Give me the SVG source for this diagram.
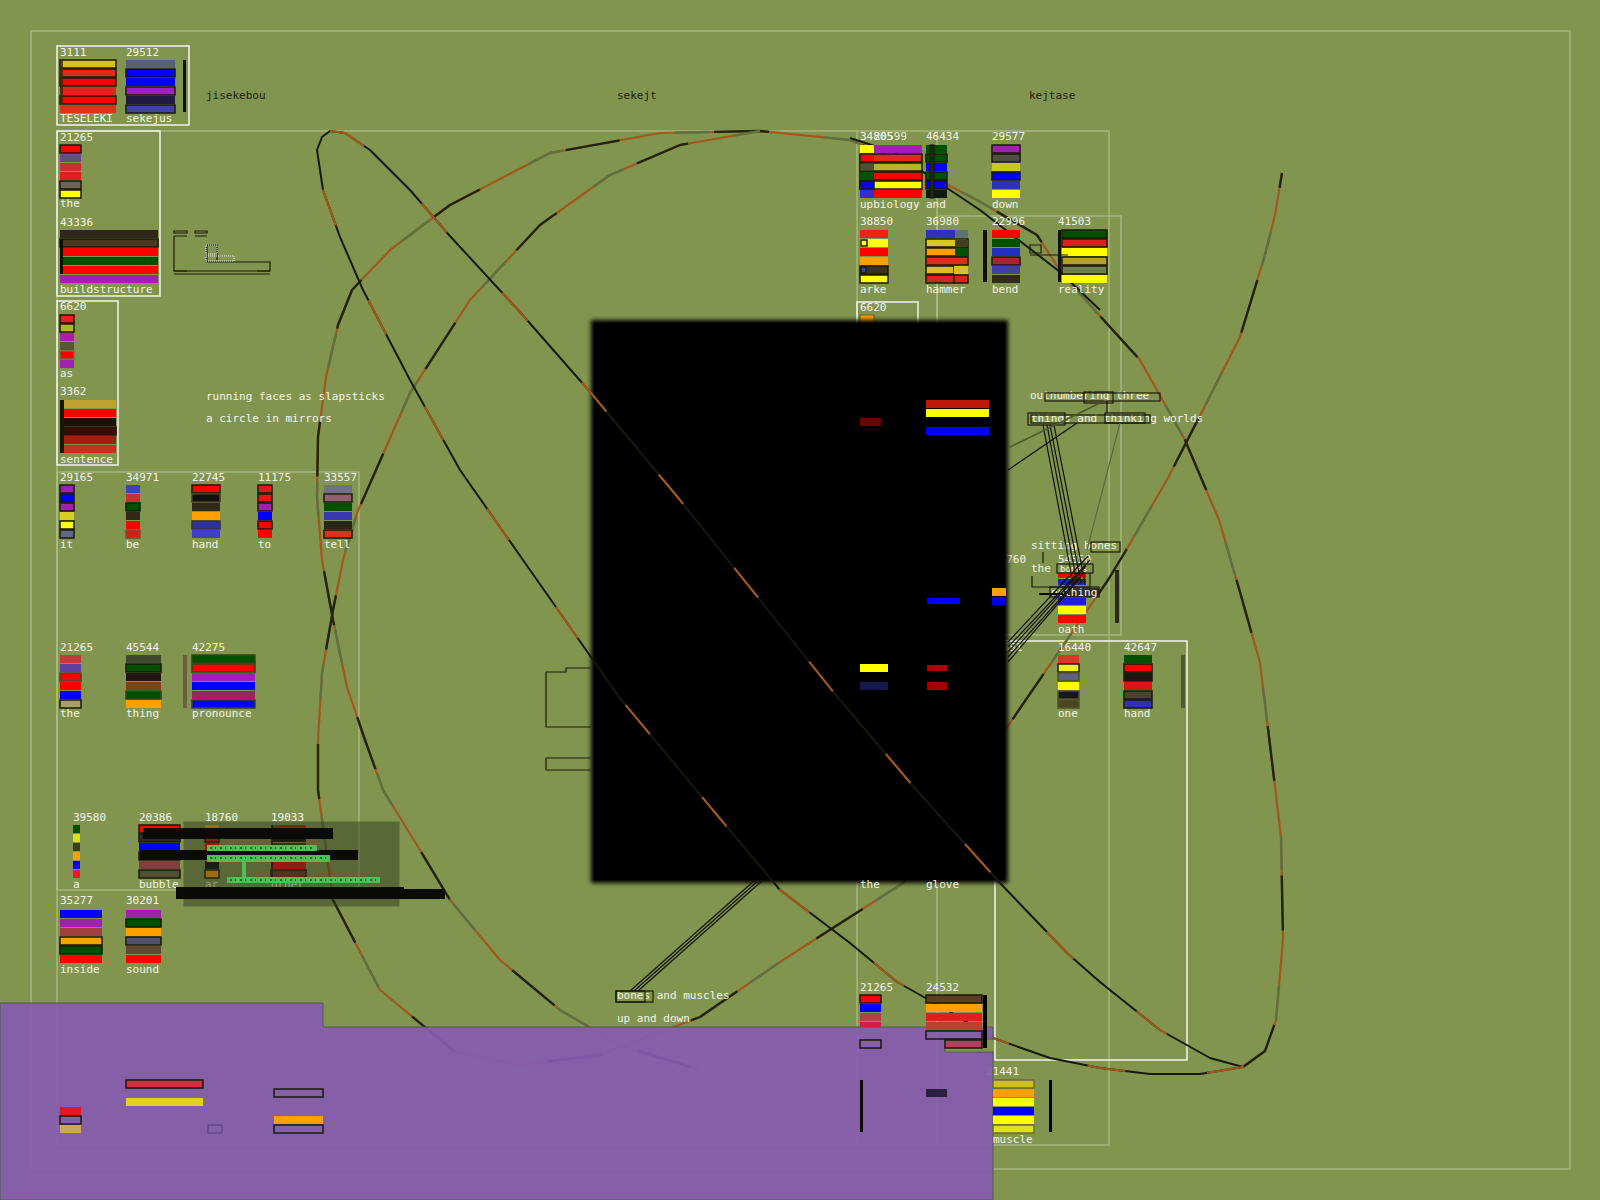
<svg xmlns="http://www.w3.org/2000/svg" width="1600" height="1200" viewBox="0 0 1600 1200">
<defs>
<style>
.t{font-family:"DejaVu Sans Mono",monospace;font-size:11px;fill:#f4f4ec}
.d{font-family:"DejaVu Sans Mono",monospace;font-size:11px;fill:#1c2010}
.fr{fill:none;stroke:#b8c494;stroke-width:1}
.wb{fill:none;stroke:#f4f4ee;stroke-width:1.5}
.s{stroke:#1a1a0a;stroke-width:1.5}
.ol{fill:none;stroke:#1a1a0a;stroke-width:1.2}
.co{fill:none;stroke:#a0581e;stroke-width:2.2;stroke-linejoin:round}
.cd{fill:none;stroke:#1e2410;stroke-width:2.4;stroke-linejoin:round;stroke-dasharray:55 95}
.cg{fill:none;stroke:#5f7040;stroke-width:2.4;stroke-linejoin:round;stroke-dasharray:35 115;stroke-dashoffset:-60}
.ca{fill:none;stroke:#161a0c;stroke-width:2;stroke-linejoin:round}
.cao{fill:none;stroke:#a0581e;stroke-width:2.2;stroke-linejoin:round;stroke-dasharray:38 82}
.cn{fill:none;stroke:#111108;stroke-width:1.2}
</style>
<filter id="bl" x="-5%" y="-5%" width="110%" height="110%"><feGaussianBlur stdDeviation="2"/></filter>
<path id="pB" d="M1243,1067 L1265,1051 L1276,1020 L1283,939 L1281,837 L1270,745 L1260,663 L1240,592 L1219,520 L1185,440 L1140,360 L1090,305 L1063,275 L1037,235 L977,200 L900,160 L850,140 L760,131 L660,133 L550,153 L450,205 L390,250 L352,290 L338,325 L326,377 L318,437 L317,497 L322,560 L333,620 L347,687 L365,740 L383,790 L420,850 L450,900 L500,960 L560,1010 L620,1045 L700,1070"/>
<path id="pQ" d="M1282,173 L1275,215 L1265,255 L1240,337 L1209,398 L1168,478 L1125,552 L1108,580 L1010,723 L903,883 L783,960 L700,1017 L600,1055 L520,1065 L455,1052 L380,990 L333,900 L318,790 L318,740 L322,673 L333,610 L343,560 L357,513 L410,393 L470,300 L540,225 L610,175 L680,145 L760,131"/>
<path id="pA" d="M330,131 L345,133 L370,150 L410,190 L449,235 L520,312 L591,393 L680,500 L760,600 L835,694 L913,786 L1000,883 L1067,953 L1100,982 L1160,1030 L1210,1058 L1243,1067 L1200,1074 L1150,1074 L1100,1068 L1050,1058 L993,1038 L947,1010 L897,982 L850,943 L780,890 L717,815 L619,697 L530,570 L460,470 L410,380 L363,290 L340,237 L323,190 L317,150 L322,137 Z"/>
</defs>
<rect x="0" y="0" width="1600" height="1200" fill="#82954f"/>
<rect class="fr" x="31" y="31" width="1539" height="1138"/>
<rect class="fr" x="57" y="131" width="1052" height="1014"/>
<line class="fr" x1="857" y1="131" x2="857" y2="1145"/>
<line class="fr" x1="937" y1="131" x2="937" y2="1145"/>
<rect class="fr" x="937" y="216" width="184" height="419"/>
<rect class="fr" x="57" y="472" width="302" height="418"/>
<rect class="wb" x="995" y="641" width="192" height="419"/>

<g id="curves-under">
<use href="#pB" class="co"/>
<use href="#pB" class="cd"/>
<use href="#pB" class="cg"/>
<use href="#pQ" class="co"/>
<use href="#pQ" class="cd" style="stroke-dashoffset:40"/>
<use href="#pQ" class="cg"/>
<path class="ca" d="M850,138 L893,152 L980,210 L1060,272 L1100,310"/>
</g>

<g id="n3111">
<rect class="wb" x="57" y="46" width="132" height="79"/>
<text class="t" x="60" y="56">3111</text>
<rect class="s" x="60" y="60" width="56" height="8" fill="#d4c21f"/>
<rect x="60" y="69" width="56" height="8" fill="#dd2a1e" class="s"/>
<rect class="s" x="60" y="78" width="56" height="8" fill="#ff0000"/>
<rect x="60" y="87" width="56" height="8" fill="#d8281e"/>
<rect class="s" x="60" y="96" width="56" height="8" fill="#ff0000"/>
<rect x="60" y="105" width="56" height="8" fill="#d6351e"/>
<rect x="60" y="60" width="3" height="44" fill="#3a2a10" opacity="0.8"/>
<text class="t" x="60" y="122">TESELEKI</text>
</g>
<g id="n29512">
<text class="t" x="126" y="56">29512</text>
<rect x="126" y="60" width="49" height="8" fill="#5a5f78"/>
<rect class="s" x="126" y="69" width="49" height="8" fill="#0000ff"/>
<rect x="126" y="78" width="49" height="8" fill="#0000ff"/>
<rect class="s" x="126" y="87" width="49" height="8" fill="#a020c0"/>
<rect x="126" y="96" width="49" height="8" fill="#201a40"/>
<rect class="s" x="126" y="105" width="49" height="8" fill="#4040b0"/>
<rect x="183" y="60" width="3" height="52" fill="#101008"/>
<text class="t" x="126" y="122">sekejus</text>
</g>
<text class="d" x="206" y="99">jisekebou</text>
<text class="d" x="617" y="99">sekejt</text>
<text class="d" x="1029" y="99">kejtase</text>

<g id="n21265a">
<rect class="wb" x="57" y="131" width="103" height="165"/>
<text class="t" x="60" y="141">21265</text>
<rect class="s" x="60" y="145" width="21" height="8" fill="#ff0000"/>
<rect x="60" y="154" width="21" height="8" fill="#6a4a8a"/>
<rect x="60" y="163" width="21" height="8" fill="#c83038"/>
<rect x="60" y="172" width="21" height="8" fill="#e02020"/>
<rect class="s" x="60" y="181" width="21" height="8" fill="#706060"/>
<rect class="s" x="60" y="190" width="21" height="8" fill="#ffff00"/>
<text class="t" x="60" y="207">the</text>
</g>
<g id="n43336">
<text class="t" x="60" y="226">43336</text>
<rect x="60" y="230" width="98" height="8" fill="#302818"/>
<rect class="s" x="60" y="239" width="98" height="8" fill="#4a3820"/>
<rect x="60" y="248" width="98" height="8" fill="#ff0000"/>
<rect x="60" y="257" width="98" height="8" fill="#005000"/>
<rect x="60" y="266" width="98" height="8" fill="#ff0000"/>
<rect x="60" y="275" width="98" height="8" fill="#a020b0"/>
<rect x="60" y="239" width="3" height="35" fill="#101008"/>
<text class="t" x="60" y="293">buildstructure</text>
</g>
<g id="glyph1">
<path class="ol" d="M174,231 H187 V233 H174 Z M195,231 H207 V233 H195 Z M174,236 H187 M195,236 H207 M174,236 V271 H270 V262 H207 V245 H217 V260"/>
<path class="ol" d="M174,274 H270 M174,271 H187 M257,271 H270"/>
<rect x="206" y="245" width="11" height="9" fill="none" stroke="#f4f4ee" stroke-width="1" stroke-dasharray="1 1"/>
<rect x="206" y="256" width="28" height="5" fill="none" stroke="#f4f4ee" stroke-width="1" stroke-dasharray="1 1"/>
</g>

<g id="n6620">
<rect class="wb" x="57" y="301" width="61" height="164"/>
<text class="t" x="60" y="310">6620</text>
<rect class="s" x="60" y="315" width="14" height="8" fill="#e62020"/>
<rect class="s" x="60" y="324" width="14" height="8" fill="#b8b030"/>
<rect x="60" y="333" width="14" height="8" fill="#a020b0"/>
<rect x="60" y="342" width="14" height="8" fill="#5a5535"/>
<rect x="60" y="351" width="14" height="8" fill="#ff0000" stroke="#6a7040" stroke-width="1.5"/>
<rect x="60" y="360" width="14" height="8" fill="#a020b0"/>
<text class="t" x="60" y="377">as</text>
</g>
<g id="n3362">
<text class="t" x="60" y="395">3362</text>
<rect x="64" y="400" width="52" height="8" fill="#c0a030"/>
<rect x="64" y="409" width="52" height="8" fill="#ff0000"/>
<rect x="64" y="418" width="52" height="8" fill="#1a1208"/>
<rect class="s" x="64" y="427" width="52" height="8" fill="#3a0a05"/>
<rect x="64" y="436" width="52" height="8" fill="#a02010"/>
<rect x="64" y="445" width="52" height="8" fill="#c83020"/>
<rect x="60" y="400" width="4" height="53" fill="#181808"/>
<text class="t" x="60" y="463">sentence</text>
</g>
<text class="t" x="206" y="400">running faces as slapsticks</text>
<text class="t" x="206" y="422">a circle in mirrors</text>

<g id="n29165">
<text class="t" x="60" y="481">29165</text>
<rect class="s" x="60" y="485" width="14" height="8" fill="#a020b0"/>
<rect class="s" x="60" y="494" width="14" height="8" fill="#0000ff"/>
<rect class="s" x="60" y="503" width="14" height="8" fill="#a020b0"/>
<rect x="60" y="512" width="14" height="8" fill="#d8d020"/>
<rect class="s" x="60" y="521" width="14" height="8" fill="#ffff00"/>
<rect class="s" x="60" y="530" width="14" height="8" fill="#606888"/>
<text class="t" x="60" y="548">it</text>
</g>
<g id="n34971">
<text class="t" x="126" y="481">34971</text>
<rect x="126" y="485" width="14" height="8" fill="#4040b8"/>
<rect x="126" y="494" width="14" height="8" fill="#b83830"/>
<rect class="s" x="126" y="503" width="14" height="8" fill="#005000"/>
<rect x="126" y="512" width="14" height="8" fill="#302818"/>
<rect x="126" y="521" width="14" height="8" fill="#ff0000"/>
<rect x="126" y="530" width="14" height="8" fill="#e01818" stroke="#7a5030" stroke-width="1.5"/>
<text class="t" x="126" y="548">be</text>
</g>
<g id="n22745">
<text class="t" x="192" y="481">22745</text>
<rect class="s" x="192" y="485" width="28" height="8" fill="#ff0000"/>
<rect x="192" y="494" width="28" height="8" fill="#101010" stroke="#4a4020" stroke-width="1.5"/>
<rect x="192" y="503" width="28" height="8" fill="#302818"/>
<rect x="192" y="512" width="28" height="8" fill="#ffa000"/>
<rect x="192" y="521" width="28" height="8" fill="#3030a0" stroke="#303828" stroke-width="1.5"/>
<rect x="192" y="530" width="28" height="8" fill="#4040c0"/>
<text class="t" x="192" y="548">hand</text>
</g>
<g id="n11175">
<text class="t" x="258" y="481">11175</text>
<rect class="s" x="258" y="485" width="14" height="8" fill="#e01818"/>
<rect class="s" x="258" y="494" width="14" height="8" fill="#e01818"/>
<rect class="s" x="258" y="503" width="14" height="8" fill="#a020b0"/>
<rect x="258" y="512" width="14" height="8" fill="#0000ff"/>
<rect class="s" x="258" y="521" width="14" height="8" fill="#ff0000"/>
<rect x="258" y="530" width="14" height="8" fill="#ff0000"/>
<text class="t" x="258" y="548">to</text>
</g>
<g id="n33557">
<text class="t" x="324" y="481">33557</text>
<rect x="324" y="485" width="28" height="8" fill="#707088"/>
<rect class="s" x="324" y="494" width="28" height="8" fill="#906070"/>
<rect x="324" y="503" width="28" height="8" fill="#005000"/>
<rect x="324" y="512" width="28" height="8" fill="#3838b0"/>
<rect x="324" y="521" width="28" height="8" fill="#282818"/>
<rect class="s" x="324" y="530" width="28" height="8" fill="#e03020"/>
<text class="t" x="324" y="548">tell</text>
</g>

<g id="n21265b">
<text class="t" x="60" y="651">21265</text>
<rect x="60" y="655" width="21" height="8" fill="#c83838"/>
<rect x="60" y="664" width="21" height="8" fill="#6040a0"/>
<rect x="60" y="673" width="21" height="8" fill="#ff0000" stroke="#5a4030" stroke-width="1.5"/>
<rect x="60" y="682" width="21" height="8" fill="#ff0000"/>
<rect x="60" y="691" width="21" height="8" fill="#0000ff"/>
<rect class="s" x="60" y="700" width="21" height="8" fill="#a8a060"/>
<text class="t" x="60" y="717">the</text>
</g>
<g id="n45544">
<text class="t" x="126" y="651">45544</text>
<rect x="126" y="655" width="35" height="8" fill="#404830"/>
<rect class="s" x="126" y="664" width="35" height="8" fill="#005000"/>
<rect x="126" y="673" width="35" height="8" fill="#201810"/>
<rect x="126" y="682" width="35" height="8" fill="#804018"/>
<rect x="126" y="691" width="35" height="8" fill="#005000" stroke="#3a4020" stroke-width="1.5"/>
<rect x="126" y="700" width="35" height="8" fill="#ffa000"/>
<text class="t" x="126" y="717">thing</text>
</g>
<g id="n42275">
<text class="t" x="192" y="651">42275</text>
<rect x="183" y="655" width="4" height="53" fill="#6a6040"/>
<rect x="192" y="655" width="63" height="8" fill="#005000" stroke="#3a4020" stroke-width="1.5"/>
<rect x="192" y="664" width="63" height="8" fill="#ff0000" stroke="#3a4020" stroke-width="1.5"/>
<rect x="192" y="673" width="63" height="8" fill="#a020b0"/>
<rect x="192" y="682" width="63" height="8" fill="#0000ff"/>
<rect x="192" y="691" width="63" height="8" fill="#a02060"/>
<rect x="192" y="700" width="63" height="8" fill="#0000ff" stroke="#3a4020" stroke-width="1.5"/>
<text class="t" x="192" y="717">pronounce</text>
</g>

<g id="n39580">
<text class="t" x="73" y="821">39580</text>
<rect x="73" y="825" width="7" height="8" fill="#005000"/>
<rect x="73" y="834" width="7" height="8" fill="#e0e010"/>
<rect x="73" y="843" width="7" height="8" fill="#384020"/>
<rect x="73" y="852" width="7" height="8" fill="#ffa000"/>
<rect x="73" y="861" width="7" height="8" fill="#0000ff"/>
<rect x="73" y="870" width="7" height="8" fill="#e02020"/>
<text class="t" x="73" y="888">a</text>
</g>
<g id="n20386">
<text class="t" x="139" y="821">20386</text>
<rect class="s" x="139" y="825" width="41" height="8" fill="#ff0000"/>
<rect class="s" x="139" y="834" width="41" height="8" fill="#302830"/>
<rect x="139" y="843" width="41" height="8" fill="#0000ff"/>
<rect class="s" x="139" y="852" width="41" height="8" fill="#202020"/>
<rect x="139" y="861" width="41" height="8" fill="#804040"/>
<rect class="s" x="139" y="870" width="41" height="8" fill="#505030"/>
<text class="t" x="139" y="888">bubble</text>
</g>
<g id="n18760">
<text class="t" x="205" y="821">18760</text>
<rect x="205" y="825" width="14" height="8" fill="#ffa000"/>
<rect class="s" x="205" y="834" width="14" height="8" fill="#ff0000"/>
<rect x="205" y="843" width="14" height="8" fill="#ff0000"/>
<rect x="205" y="852" width="14" height="8" fill="#303040"/>
<rect x="205" y="861" width="14" height="8" fill="#101010"/>
<rect class="s" x="205" y="870" width="14" height="8" fill="#ffa000"/>
<text class="t" x="205" y="888">ar</text>
</g>
<g id="n19033">
<text class="t" x="271" y="821">19033</text>
<rect x="271" y="825" width="35" height="8" fill="#e01010"/>
<rect x="271" y="834" width="35" height="8" fill="#101010"/>
<rect x="271" y="843" width="35" height="8" fill="#005000"/>
<rect x="271" y="852" width="35" height="8" fill="#101010"/>
<rect x="271" y="861" width="35" height="8" fill="#e01010"/>
<rect class="s" x="271" y="870" width="35" height="8" fill="#7a3020"/>
<rect x="271" y="825" width="2" height="53" fill="#202018"/>
<text class="t" x="271" y="888">order</text>
</g>
<g id="glitch1">
<rect x="184" y="822" width="215" height="84" fill="#2a3018" opacity="0.45" stroke="#2a3018" stroke-width="1"/>
<rect x="143" y="828" width="190" height="11" fill="#0a0a06"/>
<rect x="140" y="850" width="218" height="10" fill="#0a0a06"/>
<rect x="176" y="887" width="228" height="4" fill="#0a0a06"/>
<rect x="176" y="889" width="269" height="10" fill="#0a0a06"/>
<rect x="207" y="845" width="110" height="6" fill="#4cc152"/>
<rect x="207" y="855" width="123" height="7" fill="#4cc152"/>
<rect x="227" y="877" width="153" height="6" fill="#4cc152"/>
<rect x="242" y="862" width="4" height="15" fill="#4cc152"/>
<path d="M210,848 H315 M210,858 H328 M230,880 H378" stroke="#0a0a06" stroke-width="1" stroke-dasharray="2 3 1 4"/>
</g>

<g id="n35277">
<text class="t" x="60" y="904">35277</text>
<rect x="60" y="910" width="42" height="8" fill="#0000ff"/>
<rect x="60" y="919" width="42" height="8" fill="#a020b0"/>
<rect x="60" y="928" width="42" height="8" fill="#a04040"/>
<rect class="s" x="60" y="937" width="42" height="8" fill="#ffa000"/>
<rect class="s" x="60" y="946" width="42" height="8" fill="#005000"/>
<rect x="60" y="955" width="42" height="8" fill="#ff0000"/>
<text class="t" x="60" y="973">inside</text>
</g>
<g id="n30201">
<text class="t" x="126" y="904">30201</text>
<rect x="126" y="910" width="35" height="8" fill="#a020b0"/>
<rect class="s" x="126" y="919" width="35" height="8" fill="#005000"/>
<rect x="126" y="928" width="35" height="8" fill="#ffa000"/>
<rect class="s" x="126" y="937" width="35" height="8" fill="#505070"/>
<rect x="126" y="946" width="35" height="8" fill="#604830"/>
<rect x="126" y="955" width="35" height="8" fill="#ff0000"/>
<text class="t" x="126" y="973">sound</text>
</g>

<g id="n34805">
<text class="t" x="860" y="140">34805</text>
<text class="t" x="874" y="140" opacity="0.9">20599</text>
<rect x="860" y="145" width="62" height="8" fill="#a020b0"/><rect x="860" y="145" width="14" height="8" fill="#ffff00"/>
<rect class="s" x="860" y="154" width="62" height="8" fill="#dd2a1e"/><rect x="861" y="155" width="13" height="6" fill="#ff0000"/>
<rect class="s" x="860" y="163" width="62" height="8" fill="#b8b030"/><rect x="861" y="164" width="13" height="6" fill="#5a4a30"/>
<rect class="s" x="860" y="172" width="62" height="8" fill="#ff0000"/><rect x="860" y="172" width="14" height="8" fill="#005000"/>
<rect class="s" x="860" y="181" width="62" height="8" fill="#ffff00"/><rect class="s" x="860" y="181" width="14" height="8" fill="#0000ff"/>
<rect x="860" y="190" width="62" height="8" fill="#ff0000"/><rect x="860" y="190" width="14" height="8" fill="#3030d0"/>
<text class="t" x="860" y="208">upbiology</text>
</g>
<g id="n46434">
<text class="t" x="926" y="140">46434</text>
<rect x="926" y="145" width="21" height="8" fill="#005000"/>
<rect class="s" x="926" y="154" width="21" height="8" fill="#005000"/>
<rect x="926" y="163" width="21" height="8" fill="#0000ff"/>
<rect class="s" x="926" y="172" width="21" height="8" fill="#005000"/>
<rect class="s" x="926" y="181" width="21" height="8" fill="#0000ff"/>
<rect x="926" y="190" width="21" height="8" fill="#101810"/>
<rect x="930" y="145" width="4" height="53" fill="#202818" stroke="#101008" stroke-width="1"/>
<text class="t" x="926" y="208">and</text>
</g>
<g id="n29577">
<text class="t" x="992" y="140">29577</text>
<rect class="s" x="992" y="145" width="28" height="8" fill="#a020b0"/>
<rect class="s" x="992" y="154" width="28" height="8" fill="#505040"/>
<rect x="992" y="163" width="28" height="8" fill="#c8c820"/>
<rect class="s" x="992" y="172" width="28" height="8" fill="#0000ff"/>
<rect x="992" y="181" width="28" height="8" fill="#3030c0"/>
<rect x="992" y="190" width="28" height="8" fill="#ffff00"/>
<text class="t" x="992" y="208">down</text>
</g>
<g id="n38850">
<text class="t" x="860" y="225">38850</text>
<rect x="860" y="230" width="28" height="8" fill="#ee2020"/>
<rect x="860" y="239" width="28" height="8" fill="#ffff00"/><rect class="s" x="861" y="240" width="6" height="6" fill="#ffff00"/>
<rect x="860" y="248" width="28" height="8" fill="#ff0000"/>
<rect x="860" y="257" width="28" height="8" fill="#ffa000"/>
<rect class="s" x="860" y="266" width="28" height="8" fill="#403018"/><rect class="s" x="861" y="267" width="5" height="6" fill="#4040a0"/>
<rect class="s" x="860" y="275" width="28" height="8" fill="#ffff00"/>
<text class="t" x="860" y="293">arke</text>
</g>
<g id="n36980">
<text class="t" x="926" y="225">36980</text>
<rect x="926" y="230" width="42" height="8" fill="#3030c0"/><rect x="955" y="230" width="13" height="8" fill="#607070"/>
<rect class="s" x="926" y="239" width="42" height="8" fill="#d8c820"/><rect x="955" y="240" width="12" height="6" fill="#404020"/>
<rect class="s" x="926" y="248" width="42" height="8" fill="#ffa000"/><rect x="955" y="248" width="13" height="8" fill="#005000"/>
<rect class="s" x="926" y="257" width="42" height="8" fill="#d83018"/>
<rect class="s" x="926" y="266" width="28" height="8" fill="#d8c020"/><rect x="954" y="266" width="14" height="8" fill="#d8c020"/>
<rect class="s" x="926" y="275" width="28" height="8" fill="#e02020"/><rect class="s" x="954" y="275" width="14" height="8" fill="#e02020"/>
<rect x="983" y="230" width="4" height="52" fill="#101008"/>
<text class="t" x="926" y="293">hammer</text>
</g>
<g id="n22996">
<text class="t" x="992" y="225">22996</text>
<rect x="992" y="230" width="28" height="8" fill="#ff0000"/>
<rect x="992" y="239" width="28" height="8" fill="#005000"/>
<rect x="992" y="248" width="28" height="8" fill="#2030c0"/>
<rect class="s" x="992" y="257" width="28" height="8" fill="#b02030"/>
<rect x="992" y="266" width="28" height="8" fill="#4040a0"/>
<rect x="992" y="275" width="28" height="8" fill="#302a20"/>
<text class="t" x="992" y="293">bend</text>
</g>
<g id="n41503">
<text class="t" x="1058" y="225">41503</text>
<rect x="1058" y="230" width="3" height="52" fill="#101008"/>
<rect class="s" x="1062" y="230" width="45" height="8" fill="#005000"/>
<rect class="s" x="1062" y="239" width="45" height="8" fill="#e02020"/>
<rect x="1062" y="248" width="45" height="8" fill="#ffff00"/>
<rect class="s" x="1062" y="257" width="45" height="8" fill="#b8a020"/>
<rect class="s" x="1062" y="266" width="45" height="8" fill="#708050"/>
<rect x="1062" y="275" width="45" height="8" fill="#ffff00"/>
<text class="t" x="1058" y="293">reality</text>
</g>
<g id="glyph2">
<path class="ol" d="M1030,245 H1041 V253 H1030 Z M1030,255 H1068"/>
</g>

<g id="n6620b">
<rect class="wb" x="857" y="302" width="61" height="40"/>
<text class="t" x="860" y="311">6620</text>
<rect x="860" y="315" width="14" height="8" fill="#ffa000" stroke="#6a6030" stroke-width="1"/>
</g>
<g id="n18760b"><text class="t" x="993" y="563">18760</text></g>
<g id="n4651"><text class="t" x="996" y="651">4651</text></g>

<g id="blackbox">
<rect x="591" y="320" width="417" height="563" fill="#030303" filter="url(#bl)"/>
<rect x="594" y="323" width="411" height="557" fill="#000000"/>
<rect x="926" y="400" width="63" height="8" fill="#c01808"/>
<rect x="926" y="409" width="63" height="8" fill="#ffff00"/>
<rect x="926" y="427" width="63" height="8" fill="#0000ff"/>
<rect x="860" y="418" width="21" height="8" fill="#700000"/>
<rect x="927" y="598" width="33" height="6" fill="#0000ff"/>
<rect x="992" y="588" width="14" height="8" fill="#ffa000"/>
<rect x="992" y="597" width="14" height="8" fill="#0000e0"/>
<rect x="860" y="664" width="28" height="8" fill="#ffff00"/>
<rect x="927" y="665" width="20" height="6" fill="#b00000"/>
<rect x="927" y="682" width="20" height="8" fill="#a00000"/>
<rect x="860" y="682" width="28" height="8" fill="#181850"/>
</g>

<g id="n-the-glove">
<text class="t" x="860" y="888">the</text>
<text class="t" x="926" y="888">glove</text>
</g>

<g id="glyph3">
<path class="ol" d="M546,672 H566 V668 H591 M546,672 V727 H591 M546,758 H591 M546,770 H591 M546,758 V770"/>
</g>

<g id="n16440">
<text class="t" x="1058" y="651">16440</text>
<rect x="1058" y="655" width="21" height="8" fill="#d83828"/>
<rect class="s" x="1058" y="664" width="21" height="8" fill="#f0f020"/>
<rect x="1058" y="673" width="21" height="8" fill="#606080" stroke="#505030" stroke-width="1.5"/>
<rect x="1058" y="682" width="21" height="8" fill="#ffff00"/>
<rect x="1058" y="691" width="21" height="8" fill="#181810" stroke="#505030" stroke-width="1.5"/>
<rect x="1058" y="700" width="21" height="8" fill="#484820" stroke="#505030" stroke-width="1.5"/>
<text class="t" x="1058" y="717">one</text>
</g>
<g id="n42647">
<text class="t" x="1124" y="651">42647</text>
<rect x="1124" y="655" width="28" height="8" fill="#005000"/>
<rect class="s" x="1124" y="664" width="28" height="8" fill="#ff0000"/>
<rect class="s" x="1124" y="673" width="28" height="8" fill="#201810"/>
<rect x="1124" y="682" width="28" height="8" fill="#d81818"/>
<rect class="s" x="1124" y="691" width="28" height="8" fill="#504030"/>
<rect class="s" x="1124" y="700" width="28" height="8" fill="#3030b0"/>
<rect x="1181" y="655" width="4" height="53" fill="#505a30"/>
<text class="t" x="1124" y="717">hand</text>
</g>

<g id="n-outnumbering">
<text class="t" x="1030" y="399">outnumbering three</text>
<rect class="ol" x="1045" y="393" width="115" height="8"/>
<rect class="ol" x="1084" y="392" width="29" height="11"/>
</g>
<g id="n-things">
<text class="t" x="1031" y="422">things and thinking worlds</text>
<rect class="ol" x="1028" y="413" width="37" height="12"/>
<rect class="ol" x="1031" y="415" width="119" height="8"/>
<rect class="ol" x="1105" y="413" width="40" height="10"/>
</g>
<g id="n-sitting">
<text class="t" x="1031" y="549">sitting bones</text>
<rect class="ol" x="1091" y="542" width="29" height="10"/>
<text class="t" x="1031" y="572">the</text>
<text class="t" x="1058" y="563">54550</text>
<path class="ol" d="M1043,552 V563 M1032,576 V587 H1090 V573"/>
</g>
<g id="n54550">
<rect x="1058" y="573" width="28" height="5" fill="#ff0000"/>
<rect x="1058" y="579" width="28" height="6" fill="#2020c0"/>
<path d="M1060,585 L1066,579 M1066,585 L1072,579 M1072,585 L1078,579 M1078,585 L1084,579" stroke="#101010" stroke-width="1"/>
<rect class="ol" x="1057" y="564" width="36" height="9"/>
<text class="t" x="1060" y="572" style="font-size:9px">bones</text>
<rect x="1063" y="588" width="36" height="9" fill="#303028"/>
<rect class="ol" x="1050" y="587" width="49" height="10"/>
<text class="t" x="1051" y="596">nothing</text>
<rect x="1058" y="598" width="28" height="7" fill="#2020d0"/>
<rect x="1058" y="606" width="28" height="8" fill="#ffff00"/>
<rect x="1058" y="615" width="28" height="8" fill="#ff0000"/>
<text class="t" x="1058" y="633">oath</text>
<rect x="1115" y="570" width="4" height="53" fill="#2a2a20"/>
<line x1="1039" y1="594" x2="1063" y2="594" stroke="#0a0a06" stroke-width="2"/>
</g>

<g id="n-bones">
<text class="t" x="617" y="999">bones and muscles</text>
<rect class="ol" x="616" y="991" width="37" height="11"/>
<rect class="ol" x="616" y="991" width="29" height="11"/>
<text class="t" x="617" y="1022">up and down</text>
</g>

<g id="connectors">
<line class="cn" x1="1107" y1="401" x2="1107" y2="413"/>
<line class="cn" x1="1043" y1="425" x2="1073" y2="583"/>
<line class="cn" x1="1047" y1="425" x2="1077" y2="583"/>
<line class="cn" x1="1050" y1="425" x2="1081" y2="583"/>
<line class="cn" x1="1054" y1="425" x2="1085" y2="583"/>
<line class="cn" x1="1088" y1="556" x2="1008" y2="642"/>
<line class="cn" x1="1090" y1="560" x2="1008" y2="647"/>
<line class="cn" x1="1086" y1="566" x2="1008" y2="652"/>
<line class="cn" x1="1084" y1="572" x2="1008" y2="657"/>
<line class="cn" x1="1080" y1="578" x2="1008" y2="662"/>
<line x1="1100" y1="403" x2="1008" y2="448" stroke="#4a5a30" stroke-width="1.5"/>
<line class="cn" x1="1077" y1="423" x2="1008" y2="470"/>
<line x1="1120" y1="423" x2="1087" y2="550" stroke="#5a6a40" stroke-width="1.2"/>
<line class="cn" x1="630" y1="991" x2="755" y2="880"/>
<line class="cn" x1="634" y1="991" x2="759" y2="880"/>
<line class="cn" x1="638" y1="991" x2="763" y2="880"/>
</g>

<g id="curve-over">
<use href="#pA" class="ca"/>
<use href="#pA" class="cao"/>
</g>

<g id="n21441-num"><text class="t" x="986" y="1075">21441</text></g>

<g id="purple">
<path d="M0,1003 H323 V1027 H993 V1039 H945 V1052 H993 V1200 H0 Z" fill="#855bb0" fill-opacity="0.93" stroke="#4a6040" stroke-width="1"/>
<rect x="60" y="1107" width="21" height="8" fill="#e01828"/>
<rect class="s" x="60" y="1116" width="21" height="8" fill="#855bb0"/>
<rect x="60" y="1125" width="21" height="8" fill="#c8a850"/>
<rect class="s" x="126" y="1080" width="77" height="8" fill="#d03040"/>
<rect x="126" y="1098" width="77" height="8" fill="#e0d020"/>
<rect x="208" y="1125" width="14" height="8" fill="none" stroke="#5a3a80" stroke-width="1"/>
<rect class="s" x="274" y="1089" width="49" height="8" fill="none"/>
<rect x="274" y="1116" width="49" height="8" fill="#ffa000"/>
<rect class="s" x="274" y="1125" width="49" height="8" fill="none"/>
<rect x="860" y="1080" width="3" height="52" fill="#101008"/>
<rect x="926" y="1089" width="21" height="8" fill="#2a2040"/>
</g>

<g id="n21265c">
<text class="t" x="860" y="991">21265</text>
<rect class="s" x="860" y="995" width="21" height="8" fill="#ff0000"/>
<rect x="860" y="1004" width="21" height="8" fill="#0000ff"/>
<rect x="860" y="1013" width="21" height="8" fill="#b04050"/>
<rect x="860" y="1022" width="21" height="5" fill="#d02040"/>
<rect class="s" x="860" y="1040" width="21" height="8" fill="none"/>
</g>
<g id="n24532">
<text class="t" x="926" y="991">24532</text>
<rect class="s" x="926" y="995" width="56" height="8" fill="#5a4020"/>
<rect x="926" y="1004" width="56" height="8" fill="#ffa000"/>
<rect x="926" y="1013" width="56" height="8" fill="#e02020"/>
<rect x="926" y="1022" width="56" height="8" fill="#c04030"/>
<rect class="s" x="926" y="1031" width="56" height="8" fill="none"/>
<rect class="s" x="945" y="1040" width="37" height="8" fill="#b04060"/>
<rect x="983" y="995" width="4" height="53" fill="#000"/>
</g>
<g id="n21441">
<rect x="993" y="1080" width="41" height="8" fill="#d0c020" stroke="#6a6a30" stroke-width="1.5"/>
<rect x="993" y="1089" width="41" height="8" fill="#ffa000"/>
<rect x="993" y="1098" width="41" height="8" fill="#ffff00"/>
<rect x="993" y="1107" width="41" height="8" fill="#0000ff"/>
<rect x="993" y="1116" width="41" height="8" fill="#ffff00"/>
<rect x="993" y="1125" width="41" height="8" fill="#e0e020" stroke="#6a6a30" stroke-width="1.5"/>
<rect x="1049" y="1080" width="3" height="52" fill="#000"/>
<text class="t" x="993" y="1143">muscle</text>
</g>
</svg>
